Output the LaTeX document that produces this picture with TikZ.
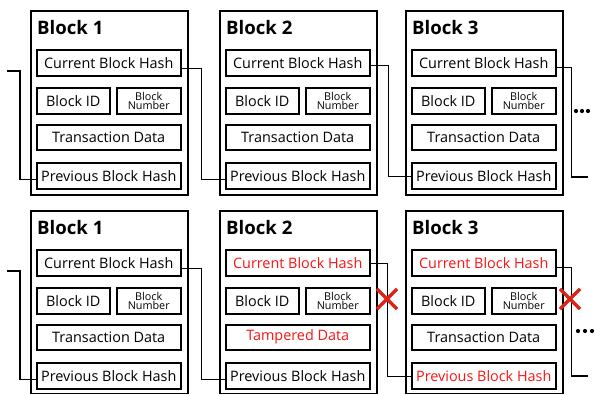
\documentclass[tikz,border=0pt]{standalone}
\usepackage{fontspec}
\setmainfont{Open Sans}
\usetikzlibrary{shapes.misc}
\definecolor{tred}{RGB}{250,20,20}
\definecolor{xred}{RGB}{220,35,20}
\tikzset{
  outerbox/.style={draw, line width=1.5pt, anchor=north west, minimum width=157, inner sep=0},
  innerbox/.style={draw, line width=1.5pt, anchor=north west, inner sep=0, font=\fontsize{14.4}{16}\selectfont},
  titletext/.style={anchor=base west, inner sep=0, font=\bfseries\fontsize{18.6}{20}\selectfont},
  smalltext/.style={align=center, font=\fontsize{10.8}{9.5}\selectfont},
  link/.style={line width=1.1pt},
  xmark/.style={cross out, draw=xred, line width=3.2pt, minimum size=17, inner sep=0},
  dot/.style={circle, fill=black, inner sep=0, minimum size=4.2}
}
% #1 name, #2 x, #3 y, #4 number, #5 current colour, #6 data text, #7 data colour, #8 previous colour, #9 outer height
\newcommand\myblock[9]{%
  \begin{scope}[shift={(#2,#3)}]
    \node[outerbox, minimum height=#9] (#1) at (0,0) {};
    \node[titletext] (#1t) at (7,24) {Block #4};
    \node[innerbox, minimum width=144, minimum height=26, text=#5] (#1c) at (6,39) {Current Block Hash};
    \node[innerbox, minimum width=73, minimum height=26] (#1i) at (6,77) {Block ID};
    \node[innerbox, minimum width=64, minimum height=26, smalltext] (#1n) at (86,77) {Block\\Number};
    \node[innerbox, minimum width=144, minimum height=25, text=#7] (#1d) at (6,114) {#6};
    \node[innerbox, minimum width=144, minimum height=26, text=#8] (#1p) at (6,152) {Previous Block Hash};
  \end{scope}}
\begin{document}
\begin{tikzpicture}[x=1pt,y=-1pt]
\useasboundingbox[fill=white] (0,0) rectangle (595,394);
% top row
\myblock{a1}{30}{10}{1}{black}{Transaction Data}{black}{black}{184}
\myblock{a2}{219}{10}{2}{black}{Transaction Data}{black}{black}{184}
\myblock{a3}{405}{10}{3}{black}{Transaction Data}{black}{black}{184}
% bottom row
\myblock{b1}{30}{210}{1}{black}{Transaction Data}{black}{black}{182.5}
\myblock{b2}{219}{210}{2}{tred}{Tampered Data}{tred}{black}{182.5}
\myblock{b3}{405}{210}{3}{tred}{Transaction Data}{black}{tred}{182.5}
% free ends
\coordinate (ain) at (7,71);
\coordinate (aout) at (588,177);
\coordinate (bin) at (7,271);
\coordinate (bout) at (588,376);
% top links
\draw[link] (ain) -- ++(13,0) |- ([yshift=-4pt]a1p.west);
\draw[link] ([yshift=-6pt]a1c.east) -- ++(20,0) |- ([yshift=-4pt]a2p.west);
\draw[link] ([yshift=-3pt]a2c.east) -- ++(18,0) |- ([yshift=-1pt]a3p.west);
\draw[link] ([yshift=-5pt]a3c.east) -- ++(15,0) |- (aout);
% bottom links
\draw[link] (bin) -- ++(13,0) |- ([yshift=-4pt]b1p.west);
\draw[link] ([yshift=-6pt]b1c.east) -- ++(20,0) |- ([yshift=-4pt]b2p.west);
\draw[link] ([yshift=-1pt]b2c.east) -- ++(17,0) |- ([yshift=-1pt]b3p.west);
\draw[link] ([yshift=-5pt]b3c.east) -- ++(15,0) |- (bout);
% broken-link marks
\node[xmark] (x1) at (387,299) {};
\node[xmark] (x2) at (570,299) {};
% continuation dots
\node[dot] (d1) at (576,111) {};
\node[dot] (d2) at (582,111) {};
\node[dot] (d3) at (588,111) {};
\node[dot] (e1) at (578,331) {};
\node[dot] (e2) at (585,331) {};
\node[dot] (e3) at (592,331) {};
\end{tikzpicture}
\end{document}
